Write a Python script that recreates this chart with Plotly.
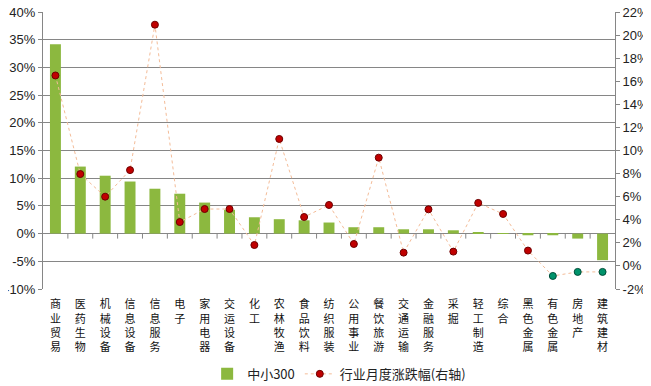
import plotly.graph_objects as go

categories = ["商业贸易", "医药生物", "机械设备", "信息设备", "信息服务", "电子", "家用电器",
              "交运设备", "化工", "农林牧渔", "食品饮料", "纺织服装", "公用事业", "餐饮旅游",
              "交通运输", "金融服务", "采掘", "轻工制造", "综合", "黑色金属", "有色金属",
              "房地产", "建筑建材"]
zx300 = [34.2, 12.1, 10.45, 9.4, 8.1, 7.2, 5.6, 4.3, 2.95, 2.6, 2.4, 2.0, 1.15, 1.15,
         0.78, 0.78, 0.6, 0.24, 0.05, -0.3, -0.3, -0.9, -4.8]
industry = [16.5, 7.96, 6.0, 8.3, 20.9, 3.8, 4.93, 4.93, 1.81, 11.0, 4.24, 5.28, 1.9, 9.38,
            1.15, 4.9, 1.24, 5.46, 4.5, 1.33, -0.87, -0.52, -0.52]
left_ticks = list(range(-10, 41, 5))
right_ticks = list(range(-2, 23, 2))

tick_text = ["<br>".join(list(c)) for c in categories]
grid = "#868686"
cjk = "Noto Sans CJK SC"

fig = go.Figure()
fig.add_trace(go.Bar(
    x=categories, y=zx300, name="中小300",
    marker=dict(color="#8CB83F", line=dict(width=0)),
    width=0.44,
))
dot_colors = ["#C00000" if v >= 0 else "#00936B" for v in industry]
dot_lines = ["#6E0000" if v >= 0 else "#004D38" for v in industry]
fig.add_trace(go.Scatter(
    x=categories, y=industry, name="行业月度涨跌幅(右轴)", yaxis="y2",
    mode="lines+markers",
    line=dict(color="#F4BC98", width=1, dash="dot"),
    marker=dict(color=dot_colors, size=7, line=dict(color=dot_lines, width=1)),
))

shapes = []
for i in range(len(categories) - 1):
    shapes.append(dict(type="line", xref="x", yref="y", x0=i + 0.5, x1=i + 0.5,
                       ysizemode="pixel", yanchor=0, y0=0, y1=-5,
                       line=dict(color=grid, width=1)))

# page body has an 8px default margin, so the figure is sized/offset accordingly
fig.update_layout(
    width=643, height=378,
    margin=dict(l=35, r=36, t=4, b=97),
    paper_bgcolor="white", plot_bgcolor="white",
    font=dict(family="Liberation Sans, Arial, " + cjk, size=13, color="#222"),
    bargap=0.5,
    showlegend=True,
    legend=dict(orientation="h", xref="container", x=0.515, xanchor="center",
                yref="container", y=0.032, yanchor="middle",
                font=dict(family=cjk, size=13, color="#222"),
                itemwidth=30, tracegroupgap=0, traceorder="normal"),
    xaxis=dict(
        type="category", tickmode="array", tickvals=categories, ticktext=tick_text,
        tickfont=dict(family=cjk, size=11, color="#111"),
        ticks="outside", ticklen=5, tickcolor="rgba(0,0,0,0)",
        showgrid=False, showline=False, zeroline=False, automargin=False,
        range=[-0.5, len(categories) - 0.5], tickangle=0,
    ),
    yaxis=dict(
        range=[-10, 40], tickmode="array", tickvals=left_ticks,
        ticktext=[f"{v}%" for v in left_ticks],
        showgrid=True, gridcolor=grid, gridwidth=1, zeroline=False,
        showline=True, linecolor=grid, linewidth=1, automargin=False,
        ticks="outside", ticklen=4, tickcolor=grid, ticklabeloverflow="allow",
        tickfont=dict(size=13, color="#222"),
    ),
    yaxis2=dict(
        range=[-2, 22], tickmode="array", tickvals=right_ticks,
        ticktext=[f"{v}%" for v in right_ticks],
        overlaying="y", side="right", showgrid=False, zeroline=False,
        showline=True, linecolor=grid, linewidth=1, automargin=False,
        ticks="outside", ticklen=4, tickcolor=grid, ticklabeloverflow="allow",
        tickfont=dict(size=13, color="#222"),
    ),
    shapes=shapes,
)

fig.write_html("out.html")
